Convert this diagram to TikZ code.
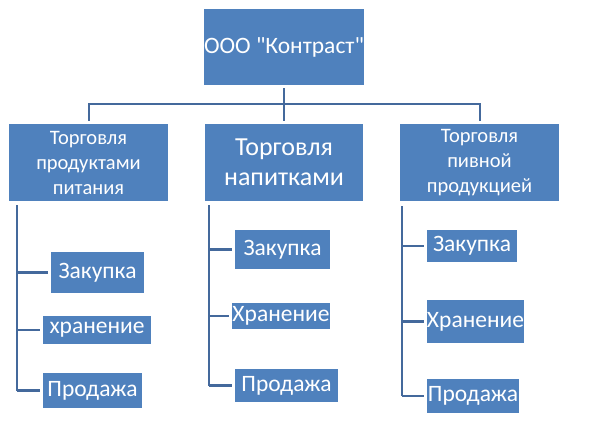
\documentclass[tikz,border=0pt]{standalone}
\usepackage{fontspec}
\newfontfamily\cfont{Carlito}
\usetikzlibrary{calc}
\definecolor{boxblue}{HTML}{4F81BD}
\definecolor{lineblue}{HTML}{44699C}
\tikzset{
  box/.style={fill=boxblue, draw=none, text=white, inner sep=0pt, align=center},
  hdr/.style={box, font=\cfont\fontsize{20.5}{25}\selectfont},
  big/.style={box, font=\cfont\fontsize{26}{30}\selectfont},
  topf/.style={box, font=\cfont\fontsize{23.5}{28}\selectfont},
  sub/.style={box, font=\cfont\fontsize{23.5}{28}\selectfont},
  conn/.style={draw=lineblue, line width=2pt},
  vconn/.style={draw=lineblue, line width=2.8pt},
  bconn/.style={draw=lineblue, line width=2.4pt, shorten >=3pt}
}
\begin{document}
\begin{tikzpicture}[x=1pt,y=-1pt]
\useasboundingbox (0,0) rectangle (590,421);
% top
\node[topf, minimum width=158pt, minimum height=76pt] (top) at (284,47) {ООО "Контраст"};
% headers
\node[hdr, minimum width=159pt, minimum height=77pt] (L1) at (88.5,162.5) {Торговля\\продуктами\\питания};
\node[big, minimum width=158pt, minimum height=77pt] (M1) at (284,162.5) {Торговля\\напитками};
\node[hdr, minimum width=159pt, minimum height=77pt] (R1) at (479.5,162.5) {Торговля\\пивной\\продукцией};
% left column
\node[sub, minimum width=93pt, minimum height=41pt] (LA) at (97.5,272.5) {Закупка};
\node[sub, minimum width=108pt, minimum height=28pt] (LB) at (97,330) {хранение};
\node[sub, minimum width=99pt, minimum height=35pt] (LC) at (92.5,390.5) {Продажа};
% middle column
\node[sub, minimum width=95pt, minimum height=39pt] (MA) at (282.5,249.5) {Закупка};
\node[sub, minimum width=94pt, minimum height=26pt] (MB) at (281,316) {Хранение};
\node[sub, minimum width=103pt, minimum height=33pt] (MC) at (286.5,385.5) {Продажа};
% right column
\node[sub, minimum width=90pt, minimum height=32pt] (RA) at (472,246) {Закупка};
\node[sub, minimum width=97pt, minimum height=43pt] (RB) at (475.5,321.5) {Хранение};
\node[sub, minimum width=92pt, minimum height=34pt] (RC) at (473,396) {Продажа};
% top connectors
\coordinate (hb) at (284,104);
\draw[conn, shorten <=3pt] (top.south) -- (top.south |- hb);
\draw[conn, shorten >=3pt] (top.south |- hb) -- (M1.north);
\draw[conn, shorten <=3pt, shorten >=3pt] (L1.north) -- (L1.north |- hb) -- (R1.north |- hb) -- (R1.north);
% column anchors
\coordinate (Lt) at (17,205);
\coordinate (Mt) at (209,205);
\coordinate (Rt) at (402,206);
% left column connectors
\draw[vconn] (Lt) -- (Lt |- LC.west);
\draw[bconn] (Lt |- LA.west) -- (LA.west);
\draw[bconn] (Lt |- LB.west) -- (LB.west);
\draw[bconn] (Lt |- LC.west) -- (LC.west);
% middle column connectors
\draw[vconn] (Mt) -- (Mt |- MC.west);
\draw[bconn] (Mt |- MA.west) -- (MA.west);
\draw[bconn] (Mt |- MB.west) -- (MB.west);
\draw[bconn] (Mt |- MC.west) -- (MC.west);
% right column connectors
\draw[vconn] (Rt) -- (Rt |- RC.west);
\draw[bconn] (Rt |- RA.west) -- (RA.west);
\draw[bconn] (Rt |- RB.west) -- (RB.west);
\draw[bconn] (Rt |- RC.west) -- (RC.west);
\end{tikzpicture}
\end{document}
